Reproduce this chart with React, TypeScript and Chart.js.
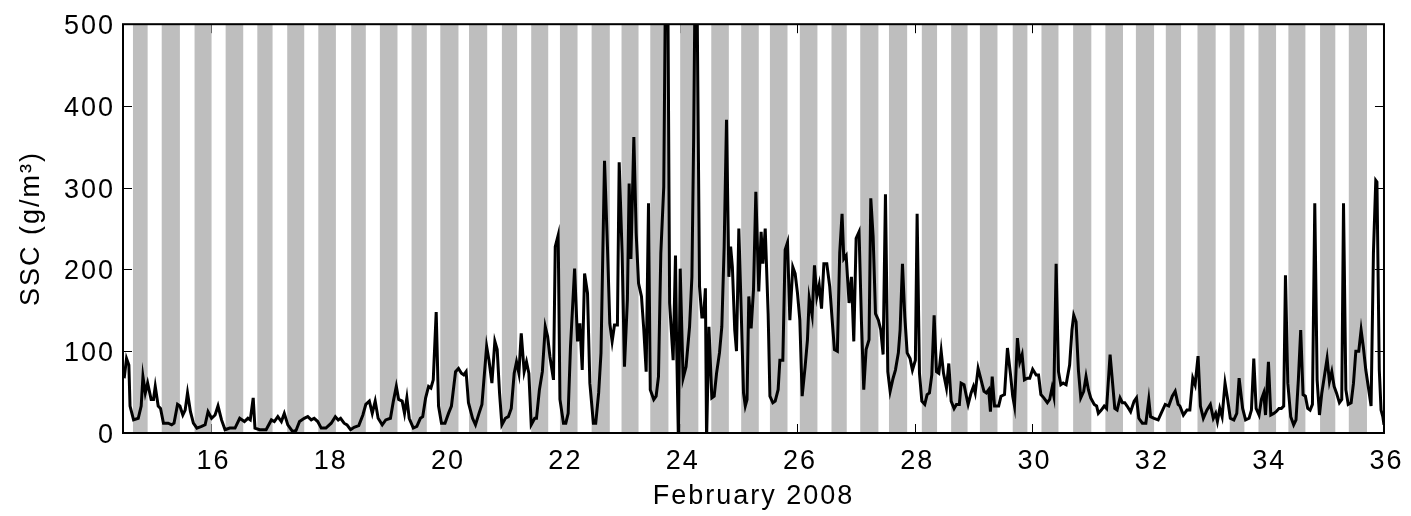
import React, { useEffect, useRef } from "react";
import { Chart, registerables } from "chart.js";

Chart.register(...registerables);

// Tick values
const xTickValues = [16, 18, 20, 22, 24, 26, 28, 30, 32, 34, 36];
const yTickValues = [0, 100, 200, 300, 400, 500];

// Shaded periods (day of February 2008)
const bandStart = [
  14.67, 15.16, 15.72, 16.25, 16.79, 17.3, 17.83, 18.39, 18.88, 19.42, 19.91, 20.4, 20.96, 21.46,
  21.95, 22.49, 23.0, 23.49, 24.0, 24.53, 25.04, 25.53, 26.04, 26.58, 27.07, 27.56, 28.12, 28.62,
  29.11, 29.67, 30.16, 30.7, 31.25, 31.77, 32.28, 32.82, 33.37, 33.86, 34.37, 34.91, 35.4,
];
const bandEnd = [
  14.92, 15.47, 16.01, 16.55, 17.05, 17.59, 18.13, 18.64, 19.18, 19.68, 20.22, 20.71, 21.22, 21.75,
  22.25, 22.8, 23.29, 23.8, 24.31, 24.83, 25.34, 25.83, 26.34, 26.84, 27.38, 27.87, 28.38, 28.9,
  29.41, 29.92, 30.45, 31.01, 31.55, 32.08, 32.54, 33.13, 33.62, 34.16, 34.66, 35.17, 35.71,
];

// Time (day of February 2008) and suspended sediment concentration (g/m^3)
const times = [
  14.52, 14.56, 14.6, 14.62, 14.68, 14.76, 14.81, 14.84, 14.88, 14.92, 14.98, 15.02, 15.05, 15.1,
  15.14, 15.19, 15.27, 15.33, 15.37, 15.43, 15.47, 15.52, 15.56, 15.6, 15.65, 15.7, 15.76, 15.84,
  15.9, 15.95, 16.01, 16.07, 16.12, 16.18, 16.24, 16.32, 16.41, 16.49, 16.57, 16.63, 16.67, 16.72,
  16.75, 16.83, 16.94, 17.03, 17.08, 17.14, 17.2, 17.25, 17.31, 17.39, 17.45, 17.51, 17.59, 17.65,
  17.71, 17.76, 17.82, 17.88, 17.96, 18.05, 18.12, 18.17, 18.21, 18.27, 18.32, 18.38, 18.44, 18.52,
  18.59, 18.64, 18.7, 18.75, 18.8, 18.85, 18.92, 18.98, 19.06, 19.11, 19.16, 19.2, 19.26, 19.3,
  19.34, 19.38, 19.45, 19.51, 19.57, 19.61, 19.66, 19.71, 19.75, 19.79, 19.84, 19.88, 19.93, 19.99,
  20.05, 20.1, 20.17, 20.22, 20.27, 20.31, 20.35, 20.39, 20.46, 20.51, 20.57, 20.62, 20.7, 20.74,
  20.79, 20.84, 20.88, 20.92, 20.96, 21.02, 21.07, 21.12, 21.17, 21.21, 21.25, 21.29, 21.34, 21.38,
  21.42, 21.46, 21.52, 21.55, 21.6, 21.65, 21.7, 21.74, 21.78, 21.84, 21.87, 21.92, 21.95, 22.01,
  22.05, 22.09, 22.13, 22.2, 22.25, 22.29, 22.33, 22.37, 22.42, 22.46, 22.52, 22.56, 22.61, 22.65,
  22.71, 22.76, 22.8, 22.84, 22.88, 22.93, 22.96, 23.01, 23.05, 23.1, 23.13, 23.16, 23.21, 23.25,
  23.29, 23.34, 23.38, 23.42, 23.46, 23.49, 23.55, 23.59, 23.63, 23.67, 23.72, 23.75, 23.79, 23.82,
  23.88, 23.92, 23.94, 23.97, 24.0, 24.05, 24.1, 24.16, 24.2, 24.23, 24.26, 24.28, 24.33, 24.37,
  24.4, 24.43, 24.45, 24.49, 24.54, 24.58, 24.62, 24.67, 24.71, 24.75, 24.79, 24.83, 24.86, 24.89,
  24.93, 24.96, 25.0, 25.04, 25.08, 25.11, 25.14, 25.17, 25.21, 25.25, 25.29, 25.34, 25.38, 25.41,
  25.45, 25.5, 25.53, 25.58, 25.62, 25.67, 25.7, 25.75, 25.79, 25.83, 25.87, 25.92, 25.96, 26.0,
  26.04, 26.08, 26.13, 26.17, 26.2, 26.25, 26.29, 26.33, 26.37, 26.41, 26.45, 26.5, 26.55, 26.6,
  26.63, 26.68, 26.72, 26.76, 26.79, 26.83, 26.88, 26.92, 26.96, 27.0, 27.05, 27.09, 27.13, 27.17,
  27.22, 27.25, 27.29, 27.33, 27.38, 27.42, 27.46, 27.5, 27.54, 27.58, 27.63, 27.67, 27.72, 27.75,
  27.79, 27.83, 27.87, 27.92, 27.96, 28.01, 28.04, 28.08, 28.12, 28.17, 28.21, 28.25, 28.29, 28.33,
  28.37, 28.41, 28.45, 28.49, 28.54, 28.58, 28.62, 28.67, 28.71, 28.76, 28.79, 28.84, 28.88, 28.91,
  28.96, 29.0, 29.03, 29.08, 29.13, 29.18, 29.22, 29.26, 29.29, 29.32, 29.36, 29.43, 29.47, 29.53,
  29.58, 29.63, 29.67, 29.7, 29.75, 29.79, 29.83, 29.87, 29.92, 29.96, 30.01, 30.07, 30.11, 30.15,
  30.2, 30.26, 30.3, 30.34, 30.37, 30.41, 30.45, 30.49, 30.53, 30.58, 30.64, 30.68, 30.71, 30.75,
  30.79, 30.83, 30.88, 30.92, 30.96, 31.0, 31.06, 31.1, 31.13, 31.18, 31.23, 31.27, 31.33, 31.37,
  31.41, 31.45, 31.5, 31.54, 31.58, 31.62, 31.68, 31.74, 31.78, 31.82, 31.88, 31.94, 31.99, 32.02,
  32.08, 32.15, 32.2, 32.27, 32.33, 32.39, 32.44, 32.49, 32.52, 32.58, 32.64, 32.69, 32.74, 32.78,
  32.83, 32.87, 32.92, 32.98, 33.04, 33.09, 33.13, 33.16, 33.2, 33.24, 33.29, 33.33, 33.38, 33.44,
  33.49, 33.53, 33.59, 33.64, 33.7, 33.74, 33.78, 33.82, 33.87, 33.91, 33.95, 33.98, 34.03, 34.07,
  34.12, 34.16, 34.21, 34.25, 34.29, 34.32, 34.36, 34.41, 34.46, 34.5, 34.54, 34.58, 34.62, 34.66,
  34.7, 34.74, 34.78, 34.82, 34.86, 34.9, 34.94, 35.0, 35.03, 35.07, 35.11, 35.15, 35.19, 35.24,
  35.28, 35.31, 35.35, 35.39, 35.44, 35.48, 35.52, 35.57, 35.61, 35.65, 35.69, 35.74, 35.78, 35.82,
  35.86, 35.88, 35.92, 35.95, 35.98, 36.0,
];
const ssc = [
  67, 91, 83, 33, 16, 18, 33, 69, 49, 61, 41, 41, 57, 33,
  30, 12, 12, 10, 12, 35, 33, 22, 28, 49, 26, 12, 6, 8,
  10, 26, 18, 22, 33, 16, 4, 6, 6, 18, 14, 18, 16, 43,
  6, 4, 4, 16, 14, 20, 14, 24, 10, 2, 3, 14, 18, 20,
  16, 18, 14, 6, 6, 12, 20, 16, 18, 12, 10, 4, 7, 9,
  22, 35, 39, 24, 39, 18, 10, 16, 18, 39, 57, 41, 39, 24,
  43, 18, 6, 8, 18, 20, 43, 57, 55, 65, 148, 33, 12, 12,
  24, 33, 75, 79, 73, 71, 75, 37, 18, 10, 24, 35, 106, 89,
  61, 112, 102, 49, 10, 18, 20, 30, 73, 87, 73, 122, 75, 87,
  73, 10, 18, 18, 53, 75, 130, 118, 93, 65, 228, 242, 41, 12,
  12, 24, 106, 201, 112, 134, 77, 195, 171, 61, 12, 12, 49, 98,
  333, 228, 134, 112, 132, 132, 331, 220, 81, 163, 305, 213, 362, 244,
  183, 167, 126, 75, 281, 53, 41, 45, 69, 220, 301, 560, 540, 159,
  89, 217, 106, -10, 201, 67, 81, 130, 191, 362, 600, 600, 179, 142,
  142, 177, -10, 130, 43, 45, 73, 98, 130, 228, 383, 191, 228, 203,
  126, 100, 250, 150, 49, 33, 41, 167, 128, 175, 295, 173, 246, 207,
  250, 146, 45, 37, 39, 53, 89, 89, 224, 233, 138, 203, 195, 171,
  138, 45, 81, 114, 165, 144, 205, 167, 181, 152, 207, 207, 179, 130,
  102, 100, 220, 268, 213, 217, 159, 191, 112, 238, 246, 138, 53, 102,
  114, 287, 240, 146, 138, 126, 96, 292, 75, 51, 67, 77, 98, 126,
  207, 142, 98, 91, 77, 89, 268, 73, 39, 35, 47, 49, 71, 144,
  75, 73, 100, 73, 55, 85, 39, 30, 35, 35, 61, 59, 45, 35,
  49, 57, 49, 79, 65, 51, 49, 53, 26, 69, 33, 33, 45, 47,
  104, 73, 45, 33, 116, 87, 96, 65, 67, 67, 78, 71, 71, 47,
  43, 37, 41, 55, 45, 207, 75, 59, 61, 59, 83, 126, 144, 136,
  77, 43, 51, 69, 53, 43, 35, 33, 24, 28, 33, 30, 96, 63,
  30, 28, 43, 37, 37, 33, 26, 39, 43, 18, 12, 12, 41, 20,
  18, 16, 24, 35, 33, 45, 51, 35, 33, 22, 28, 28, 67, 59,
  94, 33, 18, 28, 35, 18, 24, 14, 30, 20, 61, 43, 18, 16,
  24, 67, 30, 16, 18, 28, 91, 30, 22, 41, 49, 22, 87, 22,
  24, 26, 30, 30, 33, 193, 61, 20, 10, 16, 65, 126, 47, 45,
  30, 28, 35, 281, 65, 22, 49, 77, 91, 63, 75, 57, 49, 37,
  41, 281, 53, 35, 37, 61, 100, 100, 126, 104, 77, 53, 33, 220,
  309, 307, 77, 28, 20, 10,
];

const FONT_FAMILY = "'Liberation Sans', Arial, Helvetica, sans-serif";
const FONT_SIZE = 27;

export default function App() {
  const canvasRef = useRef<HTMLCanvasElement>(null);

  useEffect(() => {
    document.body.style.margin = "0";
    const canvas = canvasRef.current;
    if (!canvas) return;

    const matlabAxes = {
      id: "matlabAxes",
      beforeDraw(chart: any) {
        // the reference text is set wide; widen the letter spacing a little
        (chart.ctx as any).letterSpacing = "2px";
      },
      beforeDatasetsDraw(chart: any) {
        const { ctx, chartArea: a, scales } = chart;
        const xs = scales.x;
        const ys = scales.y;
        ctx.save();
        // inward tick marks on all four sides
        ctx.strokeStyle = "#000";
        ctx.lineWidth = 1;
        const tl = 9;
        ctx.beginPath();
        xTickValues.forEach((v) => {
          const p = Math.round(xs.getPixelForValue(v)) + 0.5;
          ctx.moveTo(p, a.bottom);
          ctx.lineTo(p, a.bottom - tl);
          ctx.moveTo(p, a.top);
          ctx.lineTo(p, a.top + tl);
        });
        yTickValues.forEach((v) => {
          const p = Math.round(ys.getPixelForValue(v)) + 0.5;
          ctx.moveTo(a.left, p);
          ctx.lineTo(a.left + tl, p);
          ctx.moveTo(a.right, p);
          ctx.lineTo(a.right - tl, p);
        });
        ctx.stroke();
        // shaded periods
        ctx.fillStyle = "#bebebe";
        bandStart.forEach((s, i) => {
          const x0 = xs.getPixelForValue(s);
          const x1 = xs.getPixelForValue(bandEnd[i]);
          ctx.fillRect(x0, a.top, x1 - x0, a.bottom - a.top);
        });
        ctx.restore();
      },
      afterDatasetsDraw(chart: any) {
        const { ctx, chartArea: a } = chart;
        ctx.save();
        ctx.strokeStyle = "#000";
        ctx.lineWidth = 2;
        ctx.strokeRect(a.left, a.top, a.right - a.left, a.bottom - a.top);
        ctx.restore();
      },
    };

    const chart = new Chart(canvas, {
      type: "line",
      data: {
        datasets: [
          {
            data: times.map((t, i) => ({ x: t, y: ssc[i] })),
            borderColor: "#000",
            borderWidth: 3,
            pointRadius: 0,
            tension: 0,
            fill: false,
            clip: 0,
          },
        ],
      },
      options: {
        responsive: false,
        animation: false,
        events: [],
        layout: { padding: { top: 23, right: 21, left: 0, bottom: 0 } },
        plugins: {
          legend: { display: false },
          tooltip: { enabled: false },
        },
        scales: {
          x: {
            type: "linear",
            min: 14.5,
            max: 36,
            afterBuildTicks: (s: any) => {
              s.ticks = xTickValues.map((v) => ({ value: v }));
            },
            afterFit: (s: any) => {
              s.height = 83;
            },
            grid: { display: false, drawTicks: false },
            border: { display: false },
            ticks: {
              color: "#000",
              padding: 12,
              labelOffset: 2.5,
              maxRotation: 0,
              autoSkip: false,
              font: { family: FONT_FAMILY, size: FONT_SIZE },
              callback: (v: any) => String(v),
            },
            title: {
              display: true,
              text: "February 2008",
              color: "#000",
              font: { family: FONT_FAMILY, size: FONT_SIZE },
              padding: { top: 0, bottom: 3 },
            },
          },
          y: {
            type: "linear",
            min: 0,
            max: 500,
            afterBuildTicks: (s: any) => {
              s.ticks = yTickValues.map((v) => ({ value: v }));
            },
            afterFit: (s: any) => {
              s.width = 123;
            },
            grid: { display: false, drawTicks: false },
            border: { display: false },
            ticks: {
              color: "#000",
              padding: 8,
              labelOffset: 2.5,
              autoSkip: false,
              font: { family: FONT_FAMILY, size: FONT_SIZE },
              callback: (v: any) => String(v),
            },
            title: {
              display: true,
              text: "SSC (g/m³)",
              color: "#000",
              font: { family: FONT_FAMILY, size: FONT_SIZE },
              padding: { top: 15, bottom: 0 },
            },
          },
        },
      },
      plugins: [matlabAxes],
    });

    return () => {
      chart.destroy();
    };
  }, []);

  return (
    <div style={{ position: "fixed", left: 0, top: 0, width: 1411, height: 516, background: "#fff" }}>
      <canvas ref={canvasRef} width={1411} height={516} style={{ display: "block" }} />
    </div>
  );
}
